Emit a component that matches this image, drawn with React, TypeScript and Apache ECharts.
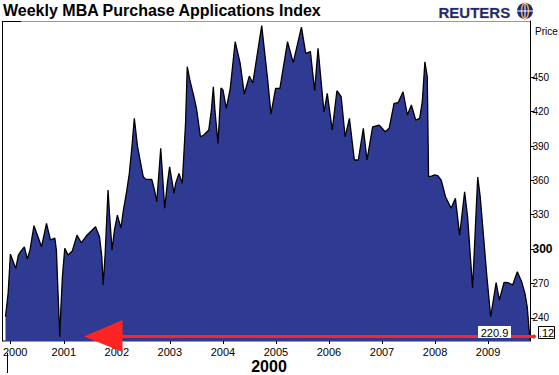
import React, { useEffect, useRef } from "react";
import * as echarts from "echarts";

// Weekly index — decimal year and index value
const weeks: number[] = [
  1999.901, 1999.951, 1999.994, 2000.094, 2000.144, 2000.206, 2000.257, 2000.313, 2000.363, 2000.438,
  2000.581, 2000.674, 2000.749, 2000.831, 2000.861, 2000.880, 2000.925, 2000.944, 2000.974, 2001.019,
  2001.081, 2001.161, 2001.249, 2001.330, 2001.423, 2001.599, 2001.674, 2001.717, 2001.742, 2001.779,
  2001.835, 2001.861, 2001.910, 2001.955, 2002.011, 2002.036, 2002.079, 2002.124, 2002.185, 2002.236,
  2002.285, 2002.330, 2002.391, 2002.498, 2002.547, 2002.659, 2002.710, 2002.753, 2002.798, 2002.828,
  2002.860, 2002.903, 2002.953, 2002.996, 2003.079, 2003.109, 2003.172, 2003.234, 2003.272, 2003.296,
  2003.328, 2003.378, 2003.453, 2003.502, 2003.577, 2003.640, 2003.734, 2003.783, 2003.820, 2003.852,
  2003.908, 2003.964, 2004.002, 2004.064, 2004.139, 2004.232, 2004.326, 2004.404, 2004.498, 2004.564,
  2004.732, 2004.845, 2004.906, 2004.994, 2005.075, 2005.219, 2005.326, 2005.481, 2005.562, 2005.650,
  2005.730, 2005.794, 2005.906, 2005.968, 2006.062, 2006.150, 2006.230, 2006.305, 2006.386, 2006.479,
  2006.554, 2006.648, 2006.717, 2006.824, 2006.948, 2007.060, 2007.135, 2007.228, 2007.303, 2007.397,
  2007.479, 2007.554, 2007.635, 2007.710, 2007.760, 2007.809, 2007.854, 2007.878, 2007.934, 2007.991,
  2008.052, 2008.116, 2008.197, 2008.303, 2008.384, 2008.464, 2008.558, 2008.614, 2008.708, 2008.805,
  2008.852, 2008.914, 2008.978, 2009.049, 2009.152, 2009.213, 2009.302, 2009.382, 2009.464, 2009.551,
  2009.633, 2009.695, 2009.738, 2009.790,
];

const indexValues: number[] = [
  240.9, 261.6, 295.6, 283.0, 294.8, 299.1, 301.8, 291.3, 299.1, 320.4,
  302.0, 322.5, 307.9, 309.6, 299.1, 275.8, 223.4, 246.7, 275.8, 300.6,
  294.8, 298.3, 312.2, 305.5, 311.4, 319.5, 310.8, 293.3, 268.6, 294.8,
  351.6, 331.5, 299.1, 316.6, 329.7, 325.3, 318.4, 334.1, 350.1, 366.1,
  389.4, 414.2, 389.4, 363.2, 360.9, 360.9, 351.6, 341.3, 369.0, 388.0,
  366.1, 335.6, 357.4, 371.9, 348.7, 357.4, 366.1, 357.4, 389.4, 409.8,
  459.3, 447.6, 433.1, 422.9, 398.1, 399.6, 404.0, 421.4, 441.8, 420.0,
  392.3, 440.7, 438.9, 422.9, 440.4, 481.1, 462.2, 435.4, 451.1, 445.0,
  495.2, 447.6, 417.9, 440.4, 440.4, 481.1, 462.8, 493.9, 471.0, 472.4,
  438.3, 475.3, 419.7, 436.0, 404.0, 438.3, 433.1, 398.1, 414.2, 377.8,
  377.8, 405.5, 377.8, 406.8, 408.3, 402.5, 405.5, 427.3, 427.8, 437.4,
  417.1, 425.8, 412.7, 414.2, 428.7, 463.6, 450.5, 363.2, 363.8, 364.7,
  364.2, 360.3, 345.7, 335.6, 344.3, 312.2, 350.1, 328.2, 266.0, 362.9,
  345.7, 311.4, 275.8, 240.9, 270.8, 255.5, 270.9, 270.6, 268.6, 280.2,
  271.5, 261.3, 249.6, 220.9,
];

const yearTicks: number[] = [2000, 2001, 2002, 2003, 2004, 2005, 2006, 2007, 2008, 2009];
const priceTicks: number[] = [240, 270, 300, 330, 360, 390, 420, 450];
const lastValue = "220.9";

const NARROW = "'Liberation Sans Narrow', 'Liberation Sans', Arial, sans-serif";
const SANS = "'Liberation Sans', Arial, sans-serif";

export default function App() {
  const ref = useRef<HTMLDivElement>(null);

  useEffect(() => {
    if (!ref.current) return;
    const chart = echarts.init(ref.current, undefined, { renderer: "svg" });
    const data = weeks.map((w, i) => [w, indexValues[i]]);

    chart.setOption({
      animation: false,
      backgroundColor: "#ffffff",
      grid: { left: 2, top: 21, width: 528.5, height: 320, show: false },
      xAxis: {
        type: "value",
        min: 1999.9,
        max: 2009.8,
        axisLine: { show: true, lineStyle: { color: "#999999", width: 1 } },
        axisTick: {
          show: true,
          customValues: yearTicks,
          length: 3,
          lineStyle: { color: "#000000" },
        },
        axisLabel: {
          customValues: yearTicks,
          formatter: (v: number) => (Math.round(v) === 2000 ? "{f|2000}" : String(Math.round(v))),
          rich: { f: { padding: [0, 0, 0, 9], fontSize: 11, fontFamily: SANS, color: "#000" } },
          fontSize: 11,
          fontFamily: SANS,
          color: "#000000",
          margin: 5,
        },
        splitLine: { show: false },
      },
      yAxis: {
        type: "value",
        position: "right",
        min: 219.7,
        max: 499.2,
        axisLine: { show: true, lineStyle: { color: "#000000", width: 1 } },
        axisTick: {
          show: true,
          customValues: priceTicks,
          length: 4,
          lineStyle: { color: "#000000" },
        },
        axisLabel: {
          customValues: priceTicks,
          formatter: (v: number) => (v === 300 ? "{b|300}" : String(v)),
          rich: { b: { fontWeight: "bold", fontSize: 12, fontFamily: NARROW, color: "#000" } },
          fontSize: 10,
          fontFamily: NARROW,
          color: "#000000",
          margin: 2,
        },
        splitLine: { show: false },
      },
      series: [
        {
          type: "line",
          data,
          symbol: "none",
          lineStyle: { color: "#000000", width: 1.3 },
          areaStyle: { color: "#2f3a92", opacity: 1, origin: "start" },
          z: 2,
        },
      ],
      graphic: [
        {
          type: "text",
          left: 3,
          top: 2,
          style: {
            text: "Weekly MBA Purchase Applications Index",
            font: `bold 16px ${SANS}`,
            fill: "#000000",
          },
        },
        {
          type: "text",
          left: 438,
          top: 4,
          style: {
            text: "REUTERS",
            font: `bold 15px ${SANS}`,
            fill: "#1b2a78",
            stroke: "#ece6b0",
            lineWidth: 1,
          },
        },
        { type: "circle", shape: { cx: 525, cy: 11, r: 8 }, style: { fill: "#1b2a78" } },
        { type: "ellipse", shape: { cx: 525, cy: 11, rx: 3.5, ry: 8 }, style: { fill: "none", stroke: "#f2a33a", lineWidth: 1.5 } },
        { type: "line", shape: { x1: 517, y1: 11, x2: 533, y2: 11 }, style: { stroke: "#ffffff", lineWidth: 1 } },
        { type: "line", shape: { x1: 525, y1: 3, x2: 525, y2: 19 }, style: { stroke: "#ffffff", lineWidth: 1 } },
        // left border
        { type: "line", shape: { x1: 2.5, y1: 21, x2: 2.5, y2: 341 }, style: { stroke: "#000000", lineWidth: 1 } },
        { type: "line", shape: { x1: 2, y1: 21.5, x2: 530.5, y2: 21.5 }, style: { stroke: "#999999", lineWidth: 1 } },
        { type: "line", shape: { x1: 2, y1: 21.5, x2: 21, y2: 21.5 }, style: { stroke: "#000000", lineWidth: 1 } },
        { type: "line", shape: { x1: 2, y1: 341, x2: 21, y2: 341 }, style: { stroke: "#000000", lineWidth: 1 } },
        { type: "text", left: 535, top: 26, style: { text: "Price", font: `10px ${SANS}`, fill: "#000" } },
        // red arrow annotation
        { type: "line", shape: { x1: 120, y1: 336.5, x2: 534, y2: 336.5 }, style: { stroke: "#ff2424", lineWidth: 3 }, z: 10 },
        { type: "circle", shape: { cx: 534, cy: 336.5, r: 2 }, style: { fill: "#ff2424" }, z: 10 },
        { type: "polygon", shape: { points: [[84, 336.5], [122.5, 320], [122.5, 352]] }, style: { fill: "#ff2424" }, z: 10 },
        // last value box
        { type: "rect", shape: { x: 478, y: 326, width: 33, height: 12 }, style: { fill: "#ffffff" }, z: 11 },
        { type: "text", x: 494.5, y: 332.5, style: { text: lastValue, font: `11px ${SANS}`, fill: "#000", align: "center", verticalAlign: "middle" }, z: 12 },
        { type: "rect", shape: { x: 538.5, y: 326.5, width: 16, height: 12 }, style: { fill: "#ffffff", stroke: "#000", lineWidth: 1 }, z: 11 },
        { type: "text", x: 546.5, y: 332.5, style: { text: ".12", font: `11px ${SANS}`, fill: "#000", align: "center", verticalAlign: "middle" }, z: 12 },
        // bottom period label
        { type: "line", shape: { x1: 7.5, y1: 353, x2: 7.5, y2: 373 }, style: { stroke: "#000", lineWidth: 1 } },
        { type: "text", x: 269, y: 366, style: { text: "2000", font: `bold 16px ${NARROW}`, fill: "#000", align: "center", verticalAlign: "middle" } },
      ],
    });

    return () => chart.dispose();
  }, []);

  return (
    <div
      ref={ref}
      style={{ position: "fixed", left: 0, top: 0, width: 559, height: 375, background: "#fff" }}
    />
  );
}
